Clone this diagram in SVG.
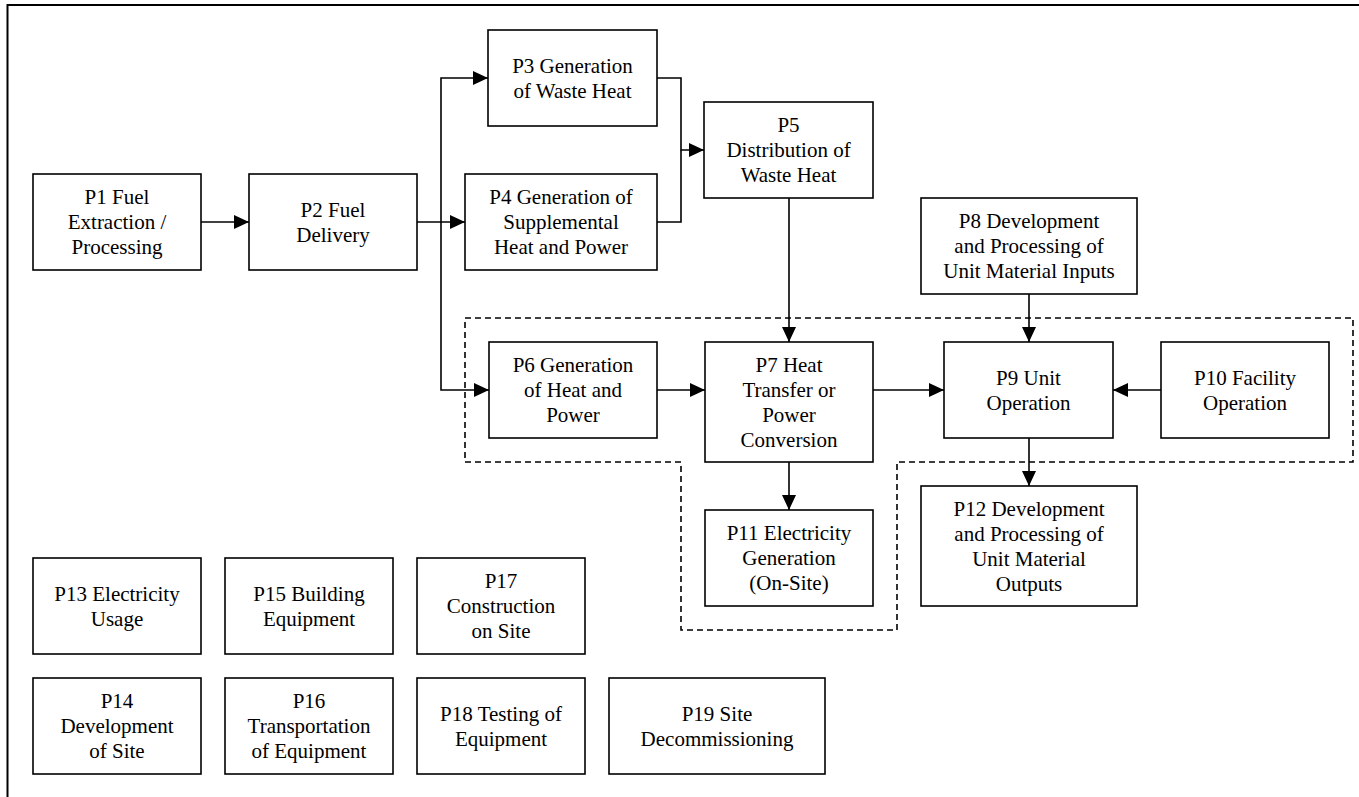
<svg xmlns="http://www.w3.org/2000/svg" width="1359" height="797" viewBox="0 0 1359 797">
<style>
.box{fill:#fff;stroke:#000;stroke-width:1.6}
.lbl{font-family:"Liberation Serif","Times New Roman","DejaVu Serif",serif;font-size:21px;fill:#000;text-anchor:middle}
.con{fill:none;stroke:#000;stroke-width:1.6}
.dash{fill:none;stroke:#000;stroke-width:1.6;stroke-dasharray:6 4}
</style>
<defs>
<marker id="arr" markerUnits="userSpaceOnUse" markerWidth="15" markerHeight="14" refX="15" refY="7" orient="auto">
<path d="M0,0 L15,7 L0,14 z" fill="#000"/>
</marker>
</defs>
<rect width="1359" height="797" fill="#fff"/>
<path d="M7.5,797 V5 H1359" fill="none" stroke="#000" stroke-width="2"/>
<g id="boundary">
<path class="dash" d="M465,318 H1353 V462 H897 V630 H681 V462 H465 Z"/>
</g>
<g id="connectors">
<path class="con" d="M201,222 H249" marker-end="url(#arr)"/>
<path class="con" d="M417,222 H465" marker-end="url(#arr)"/>
<path class="con" d="M441,222 V78 H488" marker-end="url(#arr)"/>
<path class="con" d="M441,222 V390 H489" marker-end="url(#arr)"/>
<path class="con" d="M657,78 H681 V150 H704" marker-end="url(#arr)"/>
<path class="con" d="M657,222 H681 V150"/>
<path class="con" d="M789,198 V342" marker-end="url(#arr)"/>
<path class="con" d="M657,390 H705" marker-end="url(#arr)"/>
<path class="con" d="M873,390 H944" marker-end="url(#arr)"/>
<path class="con" d="M1161,390 H1113" marker-end="url(#arr)"/>
<path class="con" d="M1029,294 V342" marker-end="url(#arr)"/>
<path class="con" d="M1029,438 V486" marker-end="url(#arr)"/>
<path class="con" d="M789,462 V510" marker-end="url(#arr)"/>
</g>
<g id="P1"><rect class="box" x="33" y="174" width="168" height="96"/><text class="lbl"><tspan x="117" y="204">P1 Fuel</tspan><tspan x="117" y="229">Extraction /</tspan><tspan x="117" y="254">Processing</tspan></text></g>
<g id="P2"><rect class="box" x="249" y="174" width="168" height="96"/><text class="lbl"><tspan x="333" y="216.5">P2 Fuel</tspan><tspan x="333" y="241.5">Delivery</tspan></text></g>
<g id="P3"><rect class="box" x="488" y="30" width="169" height="96"/><text class="lbl"><tspan x="572.5" y="72.5">P3 Generation</tspan><tspan x="572.5" y="97.5">of Waste Heat</tspan></text></g>
<g id="P4"><rect class="box" x="465" y="174" width="192" height="96"/><text class="lbl"><tspan x="561" y="204">P4 Generation of</tspan><tspan x="561" y="229">Supplemental</tspan><tspan x="561" y="254">Heat and Power</tspan></text></g>
<g id="P5"><rect class="box" x="704" y="102" width="169" height="96"/><text class="lbl"><tspan x="788.5" y="132">P5</tspan><tspan x="788.5" y="157">Distribution of</tspan><tspan x="788.5" y="182">Waste Heat</tspan></text></g>
<g id="P6"><rect class="box" x="489" y="342" width="168" height="96"/><text class="lbl"><tspan x="573" y="372">P6 Generation</tspan><tspan x="573" y="397">of Heat and</tspan><tspan x="573" y="422">Power</tspan></text></g>
<g id="P7"><rect class="box" x="705" y="342" width="168" height="120"/><text class="lbl"><tspan x="789" y="371.5">P7 Heat</tspan><tspan x="789" y="396.5">Transfer or</tspan><tspan x="789" y="421.5">Power</tspan><tspan x="789" y="446.5">Conversion</tspan></text></g>
<g id="P8"><rect class="box" x="921" y="198" width="216" height="96"/><text class="lbl"><tspan x="1029" y="228">P8 Development</tspan><tspan x="1029" y="253">and Processing of</tspan><tspan x="1029" y="278">Unit Material Inputs</tspan></text></g>
<g id="P9"><rect class="box" x="944" y="342" width="169" height="96"/><text class="lbl"><tspan x="1028.5" y="384.5">P9 Unit</tspan><tspan x="1028.5" y="409.5">Operation</tspan></text></g>
<g id="P10"><rect class="box" x="1161" y="342" width="168" height="96"/><text class="lbl"><tspan x="1245" y="384.5">P10 Facility</tspan><tspan x="1245" y="409.5">Operation</tspan></text></g>
<g id="P11"><rect class="box" x="705" y="510" width="168" height="96"/><text class="lbl"><tspan x="789" y="540">P11 Electricity</tspan><tspan x="789" y="565">Generation</tspan><tspan x="789" y="590">(On-Site)</tspan></text></g>
<g id="P12"><rect class="box" x="921" y="486" width="216" height="120"/><text class="lbl"><tspan x="1029" y="515.5">P12 Development</tspan><tspan x="1029" y="540.5">and Processing of</tspan><tspan x="1029" y="565.5">Unit Material</tspan><tspan x="1029" y="590.5">Outputs</tspan></text></g>
<g id="P13"><rect class="box" x="33" y="558" width="168" height="96"/><text class="lbl"><tspan x="117" y="600.5">P13 Electricity</tspan><tspan x="117" y="625.5">Usage</tspan></text></g>
<g id="P15"><rect class="box" x="225" y="558" width="168" height="96"/><text class="lbl"><tspan x="309" y="600.5">P15 Building</tspan><tspan x="309" y="625.5">Equipment</tspan></text></g>
<g id="P17"><rect class="box" x="417" y="558" width="168" height="96"/><text class="lbl"><tspan x="501" y="588">P17</tspan><tspan x="501" y="613">Construction</tspan><tspan x="501" y="638">on Site</tspan></text></g>
<g id="P14"><rect class="box" x="33" y="678" width="168" height="96"/><text class="lbl"><tspan x="117" y="708">P14</tspan><tspan x="117" y="733">Development</tspan><tspan x="117" y="758">of Site</tspan></text></g>
<g id="P16"><rect class="box" x="225" y="678" width="168" height="96"/><text class="lbl"><tspan x="309" y="708">P16</tspan><tspan x="309" y="733">Transportation</tspan><tspan x="309" y="758">of Equipment</tspan></text></g>
<g id="P18"><rect class="box" x="417" y="678" width="168" height="96"/><text class="lbl"><tspan x="501" y="720.5">P18 Testing of</tspan><tspan x="501" y="745.5">Equipment</tspan></text></g>
<g id="P19"><rect class="box" x="609" y="678" width="216" height="96"/><text class="lbl"><tspan x="717" y="720.5">P19 Site</tspan><tspan x="717" y="745.5">Decommissioning</tspan></text></g>
</svg>
